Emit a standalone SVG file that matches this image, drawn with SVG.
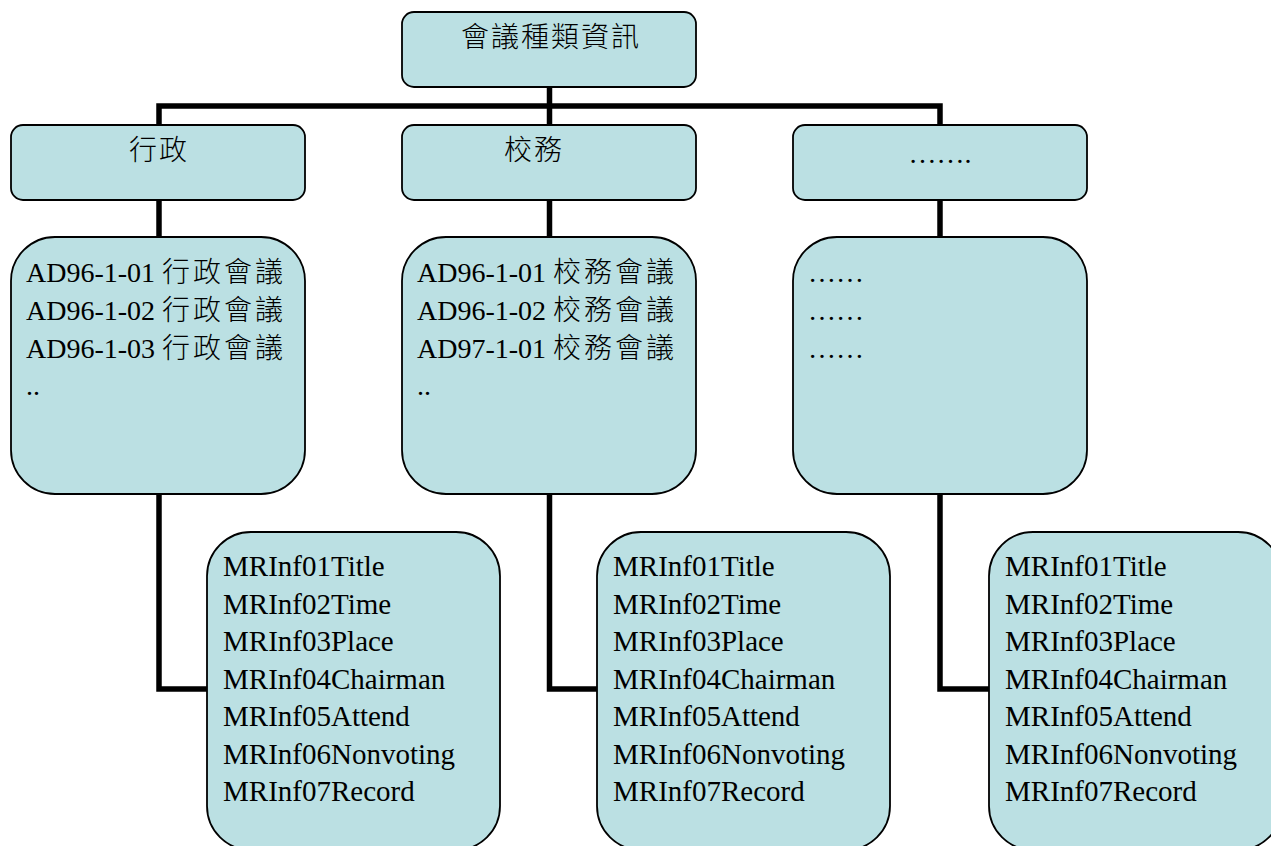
<svg xmlns="http://www.w3.org/2000/svg" width="1271" height="846" viewBox="0 0 1271 846">
  <style>
    .box { fill: #BBE0E3; stroke: #000; stroke-width: 1.8; }
    .wire { fill: none; stroke: #000; stroke-width: 5.5; stroke-linejoin: miter; }
    text { font-family: "Liberation Serif", "Noto Sans CJK TC", serif; fill: #000; }
    .head { font-size: 28px; text-anchor: middle; }
    .list { font-size: 28px; }
    .field { font-size: 29px; }
    .cjk { letter-spacing: 2px; font-weight: 300; }
    .cjk-list { letter-spacing: 3px; font-weight: 300; }
  </style>

  <rect width="1271" height="846" fill="#fff"/>

  <!-- connectors -->
  <g id="connectors">
    <path class="wire" d="M549.5,87 V106"/>
    <path class="wire" d="M159,125 V106 H940 V125"/>
    <path class="wire" d="M549.5,106 V125"/>
    <path class="wire" d="M159,200 V237"/>
    <path class="wire" d="M549.5,200 V237"/>
    <path class="wire" d="M940,200 V237"/>
    <path class="wire" d="M159,494 V689 H208"/>
    <path class="wire" d="M549.5,494 V689 H598"/>
    <path class="wire" d="M940,494 V689 H990"/>
  </g>

  <!-- root -->
  <g id="node-root">
    <rect class="box" x="402" y="12" width="294" height="75" rx="12"/>
    <text class="head cjk" x="551" y="47">會議種類資訊</text>
  </g>

  <!-- categories -->
  <g id="node-admin">
    <rect class="box" x="11" y="125" width="294" height="75" rx="12"/>
    <text class="head cjk" x="159" y="160">行政</text>
  </g>
  <g id="node-school">
    <rect class="box" x="402" y="125" width="294" height="75" rx="12"/>
    <text class="head cjk" x="534" y="160">校務</text>
  </g>
  <g id="node-other">
    <rect class="box" x="793" y="125" width="294" height="75" rx="12"/>
    <text class="head" x="940" y="163">…….</text>
  </g>

  <!-- meeting lists -->
  <g id="list-admin">
    <rect class="box" x="11" y="237" width="294" height="257" rx="44"/>
    <text class="list" x="26" y="282">AD96-1-01 <tspan class="cjk-list">行政會議</tspan></text>
    <text class="list" x="26" y="320">AD96-1-02 <tspan class="cjk-list">行政會議</tspan></text>
    <text class="list" x="26" y="358">AD96-1-03 <tspan class="cjk-list">行政會議</tspan></text>
    <text class="list" x="26" y="395">..</text>
  </g>
  <g id="list-school">
    <rect class="box" x="402" y="237" width="294" height="257" rx="44"/>
    <text class="list" x="417" y="282">AD96-1-01 <tspan class="cjk-list">校務會議</tspan></text>
    <text class="list" x="417" y="320">AD96-1-02 <tspan class="cjk-list">校務會議</tspan></text>
    <text class="list" x="417" y="358">AD97-1-01 <tspan class="cjk-list">校務會議</tspan></text>
    <text class="list" x="417" y="395">..</text>
  </g>
  <g id="list-other">
    <rect class="box" x="793" y="237" width="294" height="257" rx="44"/>
    <text class="list" x="808" y="282">……</text>
    <text class="list" x="808" y="320">……</text>
    <text class="list" x="808" y="358">……</text>
  </g>

  <!-- record fields -->
  <g id="fields-admin">
    <rect class="box" x="207" y="532" width="293" height="318" rx="44"/>
    <text class="field">
      <tspan x="223" y="576">MRInf01Title</tspan>
      <tspan x="223" y="613.5">MRInf02Time</tspan>
      <tspan x="223" y="651">MRInf03Place</tspan>
      <tspan x="223" y="688.5">MRInf04Chairman</tspan>
      <tspan x="223" y="726">MRInf05Attend</tspan>
      <tspan x="223" y="763.5">MRInf06Nonvoting</tspan>
      <tspan x="223" y="801">MRInf07Record</tspan>
    </text>
  </g>
  <g id="fields-school">
    <rect class="box" x="597" y="532" width="293" height="318" rx="44"/>
    <text class="field">
      <tspan x="613" y="576">MRInf01Title</tspan>
      <tspan x="613" y="613.5">MRInf02Time</tspan>
      <tspan x="613" y="651">MRInf03Place</tspan>
      <tspan x="613" y="688.5">MRInf04Chairman</tspan>
      <tspan x="613" y="726">MRInf05Attend</tspan>
      <tspan x="613" y="763.5">MRInf06Nonvoting</tspan>
      <tspan x="613" y="801">MRInf07Record</tspan>
    </text>
  </g>
  <g id="fields-other">
    <rect class="box" x="989" y="532" width="293" height="318" rx="44"/>
    <text class="field">
      <tspan x="1005" y="576">MRInf01Title</tspan>
      <tspan x="1005" y="613.5">MRInf02Time</tspan>
      <tspan x="1005" y="651">MRInf03Place</tspan>
      <tspan x="1005" y="688.5">MRInf04Chairman</tspan>
      <tspan x="1005" y="726">MRInf05Attend</tspan>
      <tspan x="1005" y="763.5">MRInf06Nonvoting</tspan>
      <tspan x="1005" y="801">MRInf07Record</tspan>
    </text>
  </g>
</svg>
